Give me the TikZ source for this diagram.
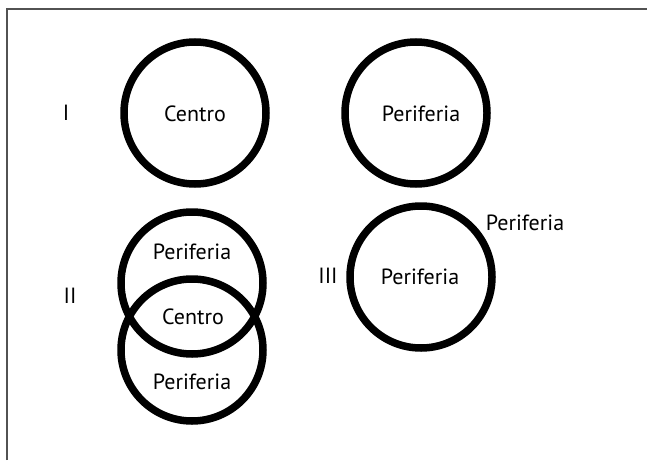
\documentclass[tikz,border=0pt]{standalone}
\usepackage{fontspec}
\setmainfont{PT Sans}
\begin{document}
\begin{tikzpicture}[x=1pt,y=-1pt,
  ring/.style={draw=black,line width=7.5pt,circle,minimum size=142pt,inner sep=0pt},
  lbl/.style={inner sep=0pt,font=\fontsize{22}{26}\selectfont,text=black}]
\useasboundingbox (0,0) rectangle (647,460);
\draw[line width=2pt,draw=black!68] (6.5,460) -- (6.5,9.5) -- (647,9.5);
% I
\node[ring] (c1) at (195,113) {};
\node[lbl] (t1) at (195,114) {Centro};
\node[lbl] (n1) at (66,113) {I};
\node[ring] (c2) at (416,113) {};
\node[lbl] (t2) at (421,114) {Periferia};
% II
\node[ring] (c3) at (192,283) {};
\node[ring] (c4) at (192,350) {};
\node[lbl] (t3) at (192,252) {Periferia};
\node[lbl] (t4) at (193,317) {Centro};
\node[lbl] (t5) at (192,382) {Periferia};
\node[lbl] (n2) at (70,296) {II};
% III
\node[ring] (c5) at (421,277) {};
\node[lbl] (t6) at (420,277) {Periferia};
\node[lbl] (t7) at (525,223) {Periferia};
\node[lbl] (n3) at (328,276) {III};
\end{tikzpicture}
\end{document}
